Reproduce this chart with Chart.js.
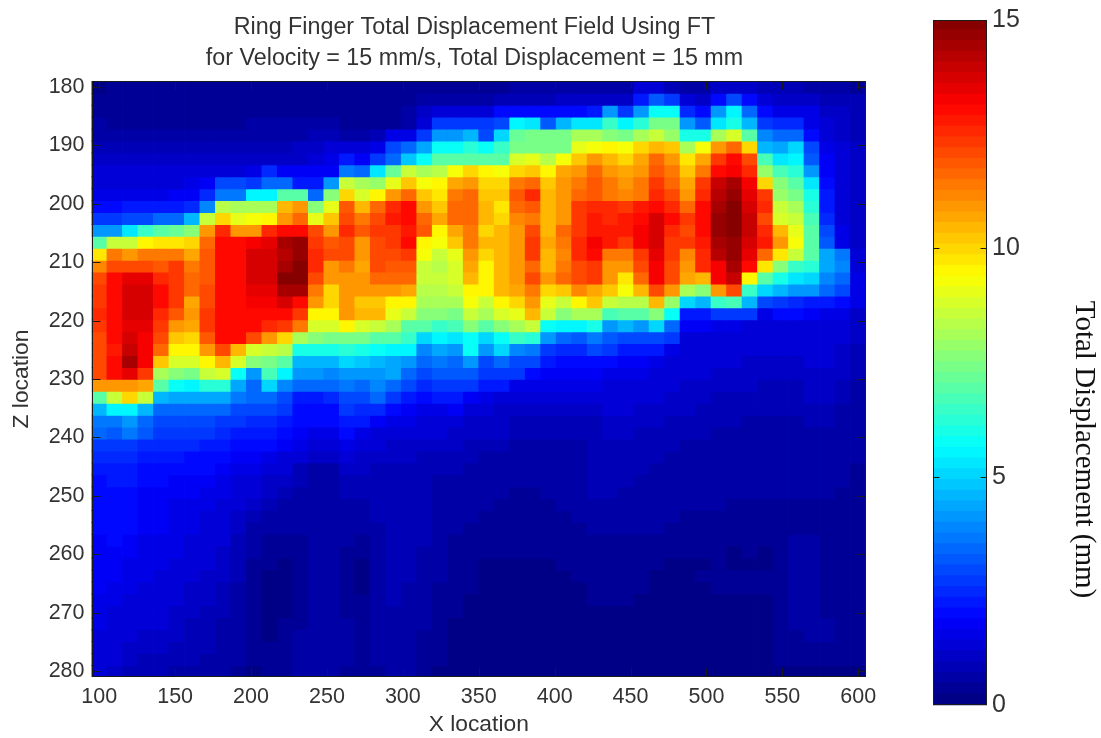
<!DOCTYPE html>
<html><head><meta charset="utf-8">
<style>html,body{margin:0;padding:0;background:#fff;width:1101px;height:738px;overflow:hidden}
canvas{position:absolute;top:0}#main{left:0}#bar{left:900px}</style>
<script src="https://cdn.jsdelivr.net/npm/chart.js@4"></script></head><body>
<canvas id="main" width="949" height="738"></canvas><canvas id="bar" width="201" height="738"></canvas>
<script>
const titleLines = ['Ring Finger Total Displacement Field Using FT','for Velocity = 15 mm/s, Total Displacement = 15 mm'];
const xTicks = [100,150,200,250,300,350,400,450,500,550,600];
const zTicks = [180,190,200,210,220,230,240,250,260,270,280];
const barTicks = [0,5,10,15];
const r00=[.2,.3,.3,.3,.3,.3,.3,.3,.3,.3,.3,.3,.3,.3,.3,.3, .3,.3,.3,.3,.3,.3,.3,.3,.3,.4,.4,.5,.5,.5,.5,.6,.6, .7,.7,1.2,1.2,.8,.7,.7,1,1,1,.9,.8,.8,.7,.6,.5,.4];
const r01=[.3,.3,.3,.3,.3,.3,.3,.3,.3,.3,.3,.3,.3,.3,.3,.3, .3,.3,.3,.3,.3,.5,.7,.7,.7,.7,.8,.9,.9,.9,1,1,1, 1,1,2.3,3.2,2.6,1.2,1.1,2,3,2,1.3,1,1,1,.9,.8,.8];
const r02=[.4,.4,.4,.4,.4,.4,.4,.4,.4,.4,.4,.4,.4,.4,.4,.4, .3,.3,.3,.3,.5,1,1.3,1.3,1.3,1.3,2,2.1,2.1,2.1,2.1,2.1,2.2, 4,2.8,4.2,5.8,5.8,2.5,2,4.2,5.5,3.3,2,1.6,1.5,1.5,1,1,.9];
const r03=[.5,.4,.4,.4,.4,.4,.4,.4,.4,.4,.5,.5,.5,.5,.5,.5, .4,.4,.4,.4,.6,1.2,2.7,2.7,2.7,2.7,3,5.4,5.2,3.2,4.5,5.3,5.3, 6.5,5.5,6.3,7.3,7.3,4,3.2,5.3,6,4.5,2.7,2.5,2.4,1.5,1.2,1,.9];
const r04=[.6,.6,.6,.6,.6,.6,.6,.6,.6,.6,.6,.6,.7,.7,.8,.9, .7,.7,.8,1.5,1.5,2.7,4,4,4.6,3,5,7.2,7.3,7.3,7.3,8,8, 7.5,7.3,8.2,8.6,7.8,6,6,8,8.8,6.8,3.8,3.3,3.3,2,1.3,1,.9];
const r05=[.8,.8,.8,.8,.8,.8,.8,.8,.8,.8,.8,.8,.9,1,1,1.3, 1.2,1.2,1.5,3,3.3,4.3,5.8,5.8,6.2,5.8,6.5,7.3,7.3,7.3,7.4,9,9.3, 9.5,9.3,10,10.4,10.2,8.2,9.3,11,11.7,10,4.6,4.3,5,3,1.5,1.2,1];
const r06=[1.1,1.1,1.1,1.1,1.1,1.1,1.1,1.1,1.1,1.1,1.1,1.1,1.1,1.1,1.2,1.5, 2.2,1.8,2.8,3.5,4.8,5.8,6.8,7,7,7,7,8.8,9,8.3,9.3,10.3,11, 10.5,10,10.6,11.7,11,9.8,10.6,12.3,13,12,6.6,5.3,5.5,3.2,1.7,1.2,1];
const r07=[1.2,1.2,1.2,1.2,1.2,1.2,1.2,1.3,1.4,1.4,1.5,2.5,1.8,1.8,1.8,1.8, 3.7,3.3,5.3,7.2,8.5,8,8.3,9.3,10,9.4,9.3,10,10.2,9.5,10.6,10.8,11.5, 11,10.7,11,11.8,11.3,10.3,11.4,13,13.2,12.6,7.8,6.6,6.3,4,1.8,1.2,1];
const r08=[1.4,1.4,1.4,1.4,1.4,1.4,1.5,1.7,3,3,2.8,3.3,3.3,2.3,2.3,4.2, 8.5,8,7.8,9,10.3,9.3,9.4,10.6,11,10,10,11.4,11.6,10.3,11,11.3,11.8, 11.3,11,11.3,12.2,11.5,10.6,12.3,14,14.5,13.3,10,7.5,7,5.3,2,1.3,1];
const r09=[1.6,1.6,1.6,1.6,1.6,1.7,1.7,2.5,3.7,3.7,5.5,5.5,7,6.8,3.5,7.5, 10,8.8,9.5,11,11.5,10.2,9.7,11.4,11.6,10.3,10.2,11.8,12.5,10.4,11,11.5,11.8, 11.4,11.2,11.4,12.6,12,10.8,12.5,14.2,14.7,13.5,12.4,7.8,7.3,6,2.2,1.3,1];
const r10=[2,2,2.2,2.2,2.2,2.2,2.5,3.8,8.3,8,8,8,10.5,10.8,7.5,9, 11.8,10.5,11.5,12.6,13,10.8,10.3,11.6,11.6,10.5,9.8,11.6,11.8,10.5,10.8,12.2,12.5, 12.5,12.4,12.8,13,12.5,11.5,13,14.3,14.8,13.8,12.6,8.5,8,6.3,2.3,1.3,1];
const r11=[2.8,2.8,3,3,3.5,3.5,4.6,8.5,10,9,9.3,9.5,11,11.7,9,10.3, 12,11.3,12,12.7,13,11.5,10.6,11.6,11.5,10.4,9.9,11.2,11.3,10.5,10.8,12.2,12.7, 12.5,12.8,13.1,13.8,13,12.4,13.1,14.6,14.8,13.9,12,8.7,8.5,6.7,2.5,1.4,1];
const r12=[4,4,5.2,6.5,6.8,7.2,7.5,10.8,12.5,10.8,11,12.5,13,13,12,11, 12.6,11.8,12.2,12.3,12.8,11.8,9.6,10.6,11.4,9.9,10.4,11,12,10.5,11.5,12.3,12.8, 12.7,12.8,13.3,13.8,12.6,12,13,14.6,14.8,14,12.6,10.5,9,7,3,1.5,1];
const r13=[7,8.5,8.5,9.5,9.8,9.8,10,11.7,13,13,13.3,13.5,14.3,14.6,12.3,11.8, 12,11,12,12.2,12.9,9.6,9.2,10.2,11.3,10.4,10.5,11,12.2,10.7,11.4,12.5,13.2, 12.7,12.4,13.2,13.6,12.4,12.2,12.7,14.5,14.6,13.7,12.8,11,9.3,7,3.2,1.6,1];
const r14=[9.8,11.3,11,11.3,11.3,11.3,10.6,11.8,13,13,13.7,13.7,14.2,14.7,12.6,12, 12,11,12,12,12.3,9.2,8.5,9,11,10,10.5,11,12.2,10.5,11.2,12.5,13, 11.4,11.3,12.4,13.5,12.4,11.2,12.6,14.2,14.6,13.5,11.7,9.7,8.5,6.8,4.3,3.6,1.2];
const r15=[11.2,12,12,12,11.8,12.2,11.4,11.8,13.1,13.1,13.7,13.7,14.3,14.8,12.5,11, 11.3,10.7,12,11.8,11.8,8.5,8.3,8.8,10.6,9.6,10.4,11,11.7,10.5,11.4,12,12.3, 11,11,12,13.2,12,10.8,12.6,13.3,14.5,13,9.8,7.5,6.5,6.3,4.3,3.8,1.2];
const r16=[12,13,13.5,13.5,12.6,12.4,11.5,11.9,13,13,13.7,13.7,14.8,14.8,12,10.8, 11,11,11.7,11.7,11.6,8.6,8.5,8.8,10.4,9.6,10.5,11,12,10.8,11.5,12,12.3, 10.8,9.8,11.6,13.2,12,10.6,10.4,13.3,14,9.5,6.8,6,5.2,5,3.8,3.3,1.5];
const r17=[12.2,13,13.6,13.6,13,12.4,11.6,12,13,13,13.4,13.4,14.3,14.3,11.3,10, 11,10.8,11,11,10.6,8.4,8.3,8.5,9.5,9.5,10.5,10.7,11.3,10,10.3,11.2,10.6, 10.2,9.3,10.5,12,11,8,7.5,11,12,6.5,5,4.5,4,4,3.5,3,1.5];
const r18=[12.2,13,13.7,13.7,13,12.2,10.7,12,13,13,13.2,13.3,13.6,13,11,9.9, 11,10.3,10.2,9.6,9.5,8.2,8.2,8.2,9.3,8.6,9.5,10,11,9,8.6,9.5,10.3, 8.5,8.3,8.4,10.5,7.8,5,4.5,6.5,6.7,4.5,3,2.8,2.5,2.3,2.3,2,1.6];
const r19=[12.5,13,13.7,13.7,12.6,11.8,11,12.3,13,13,13,13,13.1,12.2,9.5,9.4, 11,10.5,10.5,9,8.5,7.6,7.6,7.3,8.5,8,8.8,9,10.5,8.5,7.5,8,8, 6.7,6.8,7,7.5,5.7,2.3,2.3,2.7,2.8,2.7,1.5,1.9,1.9,1.7,1.6,1.6,1];
const r20=[12.2,13,13.5,13.5,12.3,11,10.6,12.2,13,13,13,12.5,12.4,11.3,8.7,8.7, 9.5,8.7,8.5,8,7,7,6.5,6.7,7.5,6.8,7.6,8,8.5,5.7,5.5,5.5,6, 4,4.5,4.2,5,3.5,1.7,1.7,1.5,1.5,1.3,1.2,1.2,1.2,1.4,1.4,1.4,1];
const r21=[12,13,13.6,13.3,12,10.3,10,11.8,13,13,12,11,10,8,7.5,7.3, 7.3,7.3,7,6.8,6.5,5,5.5,5.2,5.7,5,5.8,6.5,6.2,4,3.3,3.2,3.7, 3.2,3,3,3,2.8,1.4,1.4,1.4,1.3,1.2,1.2,1.2,1.2,1.4,1.3,1.2,1];
const r22=[12,12.8,14,13.3,11.5,9.5,9.5,10.8,12,10.5,8.7,8.5,8.4,6,6,6, 6.3,6,5.8,5.5,5.5,3.8,4.3,4,5.7,4,5,3.8,3.6,2.8,2.5,2.5,3, 2.8,2.2,2.2,2.2,1.5,1.3,1.3,1.3,1.2,1.2,1.2,1.2,1.2,1.3,1.2,1.1,.9];
const r23=[12,13,14.4,13.2,10.2,8.7,8.7,9.6,10.5,8.7,7.5,7.3,7,4.5,4.5,4.5, 5,4.8,4.6,4.4,4,3.3,3.6,3.5,4.2,3,3.3,3,3,2.3,2,2,2.1, 2,1.7,1.7,1.6,1.4,1.3,1.3,1.2,1.2,1.1,1.1,1.1,1.1,1.2,1.2,1,.9];
const r24=[12,13,13.5,12.4,8,7.5,7.3,8.5,8.8,5.7,4,6.6,5.5,4,4,3.8, 4.2,4,4.2,4.3,3.5,3,3.2,3.2,3.2,2.8,2.8,2.6,2,1.8,1.8,1.8,1.8, 1.6,1.5,1.5,1.4,1.3,1.2,1.2,1.1,1.1,1,1,1,1,1.1,1.1,1,.8];
const r25=[10.8,10.8,10.8,10.6,6.8,5.8,5.6,6.3,6.3,4.3,3.5,5,3.8,3.3,3.3,3.3, 3.6,3.5,3.8,3.5,3,2.5,2.6,2.8,2.7,2.3,2.3,1.5,1.5,1.5,1.6,1.6,1.6, 1.4,1.4,1.3,1.3,1.2,1.1,1.1,1,1,1,.9,.9,.9,1,1,.9,.7];
const r26=[7,8.5,10,8.6,4.6,4.3,4.3,4.3,4.3,3.7,3.3,3.3,3,2.3,2.3,2.5, 3,3,3.4,2.6,2.2,2,2.2,2.2,1.7,1.5,1.3,1.2,1.2,1.2,1.2,1.2,1.2, 1.3,1.3,1.2,1.2,1.1,1,1,.9,.9,.9,.8,.8,.9,1,1,.8,.7];
const r27=[4.6,5.5,5.5,4.6,3.3,3.3,3.3,3.3,3.3,3,3,3,2.6,2,2,2, 2.6,2.5,2.5,2,1.8,1.6,1.6,1.7,1.3,1.2,1.1,1,1,1,1,1,1, 1.2,1.2,1.1,1.1,1,1,.9,.9,.8,.8,.8,.8,.8,.9,.9,.7,.6];
const r28=[3.7,3.7,4,3.3,2.9,3,3,3,2.8,2.6,2.5,2.5,2.2,1.9,1.9,1.9, 2.3,2.2,1.8,1.6,1.5,1.4,1.4,1.3,1.1,1.1,1,.9,.9,.9,.9,.9,.9, 1.1,1.1,1,1,.9,.9,.9,.8,.8,.7,.7,.7,.7,.8,.8,.7,.6];
const r29=[3.3,3.2,3.6,3.2,2.8,2.8,2.7,2.7,2.5,2.3,2.2,2.2,1.9,1.7,1.6,1.6, 2,1.6,1.4,1.3,1.3,1.2,1.2,1.1,1,1,1,.9,.8,.8,.8,.8,.8, 1,1,.9,.9,.9,.8,.8,.7,.7,.7,.6,.6,.7,.7,.7,.6,.5];
const r30=[2.8,2.8,2.8,2.5,2.4,2.4,2.4,2.2,2.2,2,1.9,1.9,1.7,1.5,1.3,1.3, 1.6,1.3,1.2,1.1,1.1,1,1,1,.9,.8,.8,.7,.7,.7,.7,.7,.8, .9,.9,.8,.8,.8,.7,.7,.7,.7,.6,.6,.6,.6,.7,.7,.6,.5];
const r31=[2.4,2.4,2.4,2.2,2.2,2.2,2.1,2.1,2,1.8,1.7,1.6,1.4,1.2,1,1, 1.2,1.1,1,1,1,.9,.9,.9,.8,.7,.7,.6,.6,.6,.6,.7,.8, .9,.9,.8,.8,.7,.7,.7,.6,.6,.6,.6,.6,.6,.6,.6,.5,.5];
const r32=[2.2,2.2,2.2,2,2,2,1.9,1.9,1.8,1.6,1.5,1.3,1.2,.9,.7,.7, 1,1,.9,.9,.9,.8,.8,.8,.7,.6,.6,.5,.5,.5,.6,.7,.8, .9,.9,.8,.7,.7,.7,.7,.6,.6,.6,.5,.5,.5,.6,.6,.5,.4];
const r33=[2.1,2.2,2.2,1.9,1.9,1.8,1.8,1.7,1.6,1.4,1.3,1.1,1,.8,.6,.7, .9,.9,.9,.9,.9,.8,.7,.7,.6,.5,.5,.5,.5,.5,.6,.7,.8, .8,.8,.7,.7,.7,.6,.6,.6,.6,.5,.5,.5,.5,.5,.5,.5,.4];
const r34=[2.1,2.1,2.1,1.8,1.8,1.7,1.7,1.6,1.5,1.3,1.2,1,.9,.7,.6,.6, .8,.8,.9,.9,.9,.8,.7,.6,.6,.5,.5,.4,.4,.5,.6,.7,.8, .8,.7,.7,.7,.6,.6,.6,.5,.5,.5,.5,.5,.5,.5,.5,.4,.4];
const r35=[2,2,2,1.8,1.7,1.6,1.6,1.5,1.4,1.2,1,.8,.7,.6,.6,.6, .7,.7,.8,.9,.9,.8,.7,.6,.5,.5,.4,.4,.4,.4,.5,.6,.7, .7,.7,.6,.6,.6,.5,.5,.5,.4,.4,.4,.4,.4,.4,.4,.4,.3];
const r36=[1.9,2,2,1.7,1.7,1.6,1.5,1.4,1.3,1.1,.8,.6,.5,.5,.6,.6, .6,.6,.8,.9,.9,.8,.7,.5,.5,.4,.4,.3,.3,.4,.4,.5,.6, .7,.7,.6,.6,.5,.4,.4,.4,.4,.4,.3,.3,.3,.4,.4,.3,.3];
const r37=[1.9,2,1.9,1.7,1.7,1.6,1.5,1.3,1.2,1,.7,.5,.5,.5,.6,.6, .5,.5,.7,.9,.9,.8,.6,.5,.4,.4,.3,.3,.3,.3,.4,.4,.5, .6,.6,.5,.5,.4,.4,.4,.4,.4,.3,.3,.3,.4,.4,.4,.3,.3];
const r38=[1.8,1.9,1.8,1.6,1.6,1.5,1.4,1.3,1.2,.9,.6,.4,.4,.4,.6,.6, .5,.4,.7,.9,.9,.8,.6,.4,.4,.3,.3,.3,.3,.3,.3,.3,.4, .4,.4,.4,.4,.4,.3,.3,.3,.3,.3,.3,.4,.5,.5,.4,.3,.3];
const r39=[1.8,1.8,1.7,1.6,1.5,1.5,1.3,1.2,1.1,.9,.5,.3,.3,.4,.6,.5, .4,.3,.6,.8,.8,.7,.5,.4,.3,.3,.3,.3,.3,.3,.3,.3,.3, .3,.3,.3,.3,.3,.3,.3,.3,.2,.3,.2,.4,.5,.5,.4,.3,.3];
const r40=[1.8,1.7,1.6,1.5,1.5,1.4,1.3,1.2,1,.8,.4,.3,.2,.3,.5,.5, .3,.2,.6,.8,.8,.6,.5,.4,.3,.2,.2,.2,.2,.2,.3,.3,.3, .3,.3,.3,.3,.2,.2,.2,.3,.2,.2,.2,.4,.5,.5,.4,.3,.3];
const r41=[1.7,1.7,1.6,1.5,1.4,1.4,1.2,1.1,1,.8,.4,.2,.2,.3,.5,.5, .3,.2,.5,.8,.8,.6,.5,.3,.3,.2,.2,.2,.2,.2,.2,.3,.3, .3,.3,.3,.2,.2,.2,.3,.3,.3,.3,.3,.4,.5,.5,.4,.3,.3];
const r42=[1.7,1.6,1.5,1.4,1.3,1.2,1.1,1,.9,.7,.3,.2,.2,.3,.5,.5, .3,.2,.5,.8,.7,.6,.4,.3,.3,.2,.2,.2,.2,.2,.2,.2,.3, .3,.3,.3,.2,.2,.2,.2,.3,.3,.3,.3,.4,.5,.5,.4,.3,.3];
const r43=[1.6,1.5,1.4,1.3,1.3,1.2,1,1,.8,.7,.3,.2,.2,.3,.5,.5, .4,.3,.5,.8,.7,.5,.4,.3,.2,.2,.2,.2,.2,.2,.2,.2,.3, .3,.3,.2,.2,.2,.2,.2,.2,.2,.2,.2,.3,.5,.5,.4,.3,.3];
const r44=[1.5,1.4,1.3,1.3,1.2,1.1,1,.9,.8,.6,.3,.2,.2,.3,.5,.6, .4,.4,.5,.7,.7,.5,.4,.3,.2,.2,.2,.2,.2,.2,.2,.2,.2, .2,.2,.2,.2,.2,.2,.2,.2,.2,.2,.2,.3,.5,.5,.4,.3,.3];
const r45=[1.5,1.4,1.3,1.2,1.2,1.1,.9,.9,.7,.6,.3,.2,.3,.4,.6,.7, .5,.4,.5,.7,.6,.5,.3,.2,.2,.2,.2,.2,.2,.2,.2,.2,.2, .2,.2,.2,.2,.2,.2,.2,.2,.2,.2,.2,.3,.5,.6,.5,.3,.3];
const r46=[1.4,1.3,1.2,1.1,1.1,1,.9,.8,.7,.6,.3,.2,.3,.5,.7,.7, .5,.4,.5,.6,.6,.4,.3,.2,.2,.2,.2,.2,.2,.2,.2,.2,.2, .2,.2,.2,.2,.2,.2,.2,.2,.2,.2,.2,.3,.4,.5,.5,.3,.3];
const r47=[1.4,1.2,1.1,1,1,.9,.8,.8,.7,.6,.3,.3,.4,.5,.7,.7, .5,.4,.5,.6,.5,.4,.3,.2,.2,.2,.2,.2,.2,.2,.2,.2,.2, .2,.2,.2,.2,.2,.2,.2,.2,.2,.2,.2,.3,.3,.4,.4,.3,.3];
const r48=[1.3,1.2,1,.9,.9,.8,.8,.7,.6,.5,.3,.3,.4,.6,.7,.6, .5,.4,.5,.5,.5,.4,.3,.2,.2,.2,.2,.2,.2,.2,.2,.2,.2, .2,.2,.2,.2,.2,.2,.2,.2,.2,.2,.2,.3,.3,.3,.3,.3,.3];
const r49=[1.2,1.1,.9,.8,.8,.7,.7,.6,.5,.4,.2,.3,.3,.5,.6,.6, .4,.4,.4,.5,.5,.3,.2,.2,.2,.2,.2,.2,.2,.2,.2,.2,.2, .2,.2,.2,.2,.2,.2,.2,.2,.2,.2,.2,.2,.2,.2,.2,.2,.2];
const rows=[r00,r01,r02,r03,r04,r05,r06,r07,r08,r09,r10,r11,r12,r13,r14,r15,r16,r17,r18,r19,r20,r21,r22,r23,r24,r25,r26,r27,r28,r29,r30,r31,r32,r33,r34,r35,r36,r37,r38,r39,r40,r41,r42,r43,r44,r45,r46,r47,r48,r49];
rows.forEach((r,i)=>{ if(r.length!==50) throw new Error('row '+i+' has '+r.length); });

Chart.defaults.animation=false;
Chart.defaults.font.family='"Liberation Sans"';
Chart.defaults.color='#333';

const LEVELS=64, VMAX=15;
function jet(v){
  const t=(Math.min(LEVELS-1,Math.floor(v/VMAX*LEVELS))+.5)/LEVELS;
  const c=x=>Math.round(255*Math.max(0,Math.min(1,x)));
  return `rgb(${c(1.5-Math.abs(4*t-3))},${c(1.5-Math.abs(4*t-2))},${c(1.5-Math.abs(4*t-1))})`;
}
const dx=500/49, dz=100/49;
const heatSets=rows.map((vals,j)=>({
  data:vals.map((v,i)=>({x:100+i*dx,y:[180+(j-.5)*dz,180+(j+.5)*dz+.15]})),
  backgroundColor:vals.map(jet),borderWidth:0,grouped:false,barPercentage:1.05,categoryPercentage:1
}));
function frame(ticksX,ticksY,len,color){return {id:'frame',afterDatasetsDraw(c){
  const a=c.chartArea,g=c.ctx;g.save();g.strokeStyle=color;g.lineWidth=1;
  const L=Math.round(a.left)+.5,R=Math.round(a.right)-.5,T=Math.round(a.top)+.5,B=Math.round(a.bottom)-.5;
  g.beginPath();
  ticksY.forEach(v=>{const y=Math.round(c.scales.y.getPixelForValue(v))+.5;g.moveTo(L,y);g.lineTo(L+len,y);g.moveTo(R,y);g.lineTo(R-len,y);});
  ticksX.forEach(v=>{const x=Math.round(c.scales.x.getPixelForValue(v))+.5;g.moveTo(x,B);g.lineTo(x,B-len);g.moveTo(x,T);g.lineTo(x,T+len);});
  g.stroke();g.strokeRect(L,T,R-L,B-T);g.restore();
}};}
new Chart(document.getElementById('main'),{type:'bar',data:{datasets:heatSets},plugins:[frame(xTicks,zTicks,8,'#1a1a1a')],
 options:{responsive:false,devicePixelRatio:1,layout:{padding:0},
  plugins:{legend:{display:false},tooltip:{enabled:false},
   title:{display:true,text:titleLines,font:{size:23.3,weight:'normal',lineHeight:1.33},color:'#333',padding:{top:12,bottom:7}}},
  scales:{
   x:{type:'linear',min:100-dx/2,max:600+dx/2,offset:false,afterBuildTicks(s){s.ticks=xTicks.map(v=>({value:v}));},afterFit(s){s.height=61;},
      grid:{display:false,drawTicks:false},border:{display:false},ticks:{autoSkip:false,maxRotation:0,padding:7,font:{size:21.5}},
      title:{display:true,text:'X location',font:{size:22.8},padding:{top:-2.7,bottom:0}}},
   y:{type:'linear',reverse:true,min:180-dz/2,max:280+dz/2,afterBuildTicks(s){s.ticks=zTicks.map(v=>({value:v}));},afterFit(s){s.width=91.5;},
      grid:{display:false,drawTicks:false},border:{display:false},ticks:{autoSkip:false,padding:7,font:{size:21.5}},
      title:{display:true,text:'Z location',font:{size:22.8},padding:{top:8,bottom:0}}},
   gutter:{type:'linear',position:'right',afterFit(s){s.width=83;},grid:{display:false,drawTicks:false},border:{display:false},ticks:{display:false}}
  }}});
const step=VMAX/LEVELS;
const barSets=Array.from({length:LEVELS},(_,k)=>({data:[{x:0,y:[k*step,(k+1)*step+.02]}],backgroundColor:jet((k+.5)*step),borderWidth:0,grouped:false,barPercentage:1,categoryPercentage:1}));
const shiftAxisTitle={id:'shiftAxisTitle',beforeDraw(c){c.scales.y.bottom=879;}};
new Chart(document.getElementById('bar'),{type:'bar',data:{datasets:barSets},plugins:[frame([],[5,10],6,'#1a1a1a'),shiftAxisTitle],
 options:{responsive:false,devicePixelRatio:1,layout:{padding:{left:33,right:0,top:19,bottom:33}},
  plugins:{legend:{display:false},tooltip:{enabled:false}},
  scales:{
   x:{type:'category',labels:[0],display:false},
   y:{type:'linear',position:'right',min:0,max:VMAX,afterBuildTicks(s){s.ticks=barTicks.map(v=>({value:v}));},afterFit(s){s.width=114;},
      grid:{display:false,drawTicks:false},border:{display:false},ticks:{padding:5,font:{size:25}},
      title:{display:true,text:'Total Displacement (mm)',font:{family:'"Liberation Serif"',size:29},color:'#111',padding:{top:0,bottom:0}}}
  }}});
</script></body></html>
